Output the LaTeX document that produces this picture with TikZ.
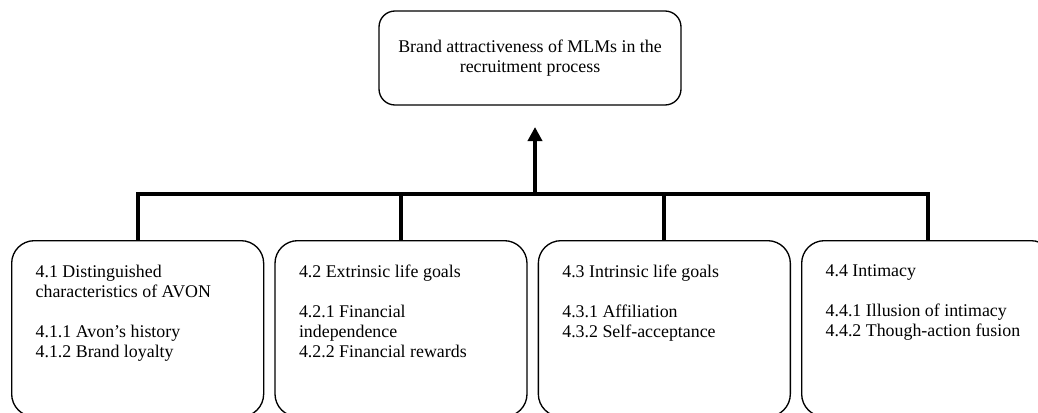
\documentclass[tikz,border=0pt]{standalone}
\usepackage{fontspec}
\setmainfont{Liberation Serif}
\usepackage{tikz}
\usetikzlibrary{positioning,arrows.meta}

\newcommand{\topictext}[1]{\parbox[t][96pt][t]{153pt}{\raggedright #1}}

\begin{document}
\begin{tikzpicture}[
    font=\fontsize{13.4}{15}\selectfont,
    heading/.style={draw, line width=1pt, rounded corners=12pt, minimum width=226.5pt, minimum height=70.5pt, align=center},
    topic/.style={draw, line width=1pt, rounded corners=17pt, inner sep=18pt},
    branch/.style={line width=3pt}
  ]
    \useasboundingbox (0,0) rectangle (778.5pt,309pt);
    \clip (0,0) rectangle (778.5pt,309pt);

    \node[heading] (brand) at (397.5pt,265.5pt) {Brand attractiveness of MLMs in the\\recruitment process};

    \node[topic, anchor=north west] (avon) at (8.25pt,129pt)
      {\topictext{4.1 Distinguished\\characteristics of AVON\\[15pt]4.1.1 Avon’s history\\4.1.2 Brand loyalty}};
    \node[topic, right=7.5pt of avon] (extrinsic)
      {\topictext{4.2 Extrinsic life goals\\[15pt]4.2.1 Financial\\independence\\4.2.2 Financial rewards}};
    \node[topic, right=7.5pt of extrinsic] (intrinsic)
      {\topictext{4.3 Intrinsic life goals\\[15pt]4.3.1 Affiliation\\4.3.2 Self-acceptance}};
    \node[topic, right=7.5pt of intrinsic] (intimacy)
      {\topictext{4.4 Intimacy\\[15pt]4.4.1 Illusion of intimacy\\4.4.2 Though-action fusion}};

    \coordinate (hub) at (401.25pt,163.5pt);
    \coordinate (tip) at (401.25pt,213.75pt);

    \draw[branch] (avon.north) |- (hub) -| (intimacy.north);
    \draw[branch] (extrinsic.north) -- (extrinsic.north |- hub);
    \draw[branch] (intrinsic.north) -- (intrinsic.north |- hub);
    \draw[branch, -{Triangle[width=10.5pt,length=10.5pt]}] (hub) -- (tip);
\end{tikzpicture}
\end{document}
